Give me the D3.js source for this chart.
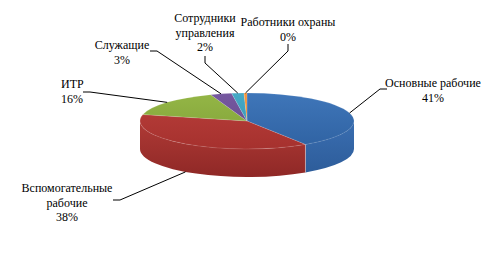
<!DOCTYPE html>
<html>
<head>
<meta charset="utf-8">
<script src="https://cdn.jsdelivr.net/npm/d3@7"></script>
<style>
  body { margin: 0; background: #fff; }
  svg { display: block; }
</style>
</head>
<body>
<div id="app"></div>
<script>
// categories and their shares (percent)
const categories = ['Основные рабочие', 'Вспомогательные\nрабочие', 'ИТР', 'Служащие', 'Сотрудники\nуправления', 'Работники охраны'];
const shares = [40.8, 37.9, 15.8, 3.2, 1.85, 0.45];

// colours per slice: [top light, top dark, side light, side dark]
const palette = [
  ['#3f76b9', '#2f62a2', '#3a6eb1', '#2c5b98'],
  ['#b93f3b', '#a6312e', '#af3a36', '#8f2826'],
  ['#94b646', '#7f9f37', '#89a83f', '#6f8a2e'],
  ['#7658a0', '#624788', '#6a4f92', '#553e78'],
  ['#45a9c6', '#3393b0', '#3c9dba', '#2e829c'],
  ['#f7963c', '#e67f22', '#ee8a30', '#d0701b']
];

// label layout: text position, anchor, attach + elbow of leader line
const labelLayout = [
  { x: 433, y: 87,  anchor: 'middle', attach: [387, 89], elbow: [380, 89] },
  { x: 67,  y: 192, anchor: 'middle', attach: [113, 200], elbow: [120, 200] },
  { x: 61,  y: 88,  anchor: 'start',  attach: [83, 92],  elbow: [90, 92] },
  { x: 122, y: 49,  anchor: 'middle', attach: [150, 51], elbow: [157, 51] },
  { x: 205, y: 22,  anchor: 'middle', attach: [205, 56], elbow: [205, 63] },
  { x: 288, y: 26,  anchor: 'middle', attach: [288, 44], elbow: [288, 51] }
];

const W = 497, H = 278;
const cx = 247, cy = 121, rx = 107, ry = 28, depth = 28;
const lineH = 14.5;
const FONT = "'Liberation Serif', 'Times New Roman', 'DejaVu Serif', serif";

const svg = d3.select('#app').append('svg').attr('width', W).attr('height', H);
const defs = svg.append('defs');

palette.forEach((c, i) => {
  const gt = defs.append('linearGradient').attr('id', 'top' + i)
    .attr('gradientUnits', 'userSpaceOnUse').attr('x1', 0).attr('y1', cy - ry).attr('x2', 0).attr('y2', cy + ry);
  gt.append('stop').attr('offset', 0).attr('stop-color', c[0]);
  gt.append('stop').attr('offset', 1).attr('stop-color', c[1]);
  const gs = defs.append('linearGradient').attr('id', 'side' + i)
    .attr('gradientUnits', 'userSpaceOnUse').attr('x1', 0).attr('y1', cy).attr('x2', 0).attr('y2', cy + ry + depth);
  gs.append('stop').attr('offset', 0).attr('stop-color', c[2]);
  gs.append('stop').attr('offset', 1).attr('stop-color', c[3]);
});

const pie = d3.pie().sort(null).value(d => d);
const arcs = pie(shares);
const total = d3.sum(shares);

function pt(a, dy = 0) {
  return [cx + rx * Math.sin(a), cy - ry * Math.cos(a) + dy];
}

// front side walls
const sides = svg.append('g');
arcs.forEach((d, i) => {
  const a0 = Math.max(d.startAngle, Math.PI / 2);
  const a1 = Math.min(d.endAngle, 3 * Math.PI / 2);
  if (a1 <= a0) return;
  const p0 = pt(a0), p1 = pt(a1), q1 = pt(a1, depth), q0 = pt(a0, depth);
  const path = `M${p0}A${rx},${ry} 0 0 1 ${p1}L${q1}A${rx},${ry} 0 0 0 ${q0}Z`;
  sides.append('path').attr('d', path).attr('fill', `url(#side${i})`);
  if (d.startAngle > Math.PI / 2 && d.startAngle < 3 * Math.PI / 2) {
    sides.append('line').attr('x1', p0[0]).attr('y1', p0[1]).attr('x2', q0[0]).attr('y2', q0[1])
      .attr('stroke', 'rgba(255,255,255,0.35)').attr('stroke-width', 1);
  }
});

// top surfaces
const tops = svg.append('g');
arcs.forEach((d, i) => {
  const p0 = pt(d.startAngle), p1 = pt(d.endAngle);
  const large = d.endAngle - d.startAngle > Math.PI ? 1 : 0;
  tops.append('path')
    .attr('d', `M${cx},${cy}L${p0}A${rx},${ry} 0 ${large} 1 ${p1}Z`)
    .attr('fill', `url(#top${i})`)
    .attr('stroke', 'rgba(255,255,255,0.25)').attr('stroke-width', 0.5);
});

// labels + leader lines
const labels = svg.append('g')
  .attr('font-family', FONT).attr('font-size', 12).attr('fill', '#000');
arcs.forEach((d, i) => {
  const L = labelLayout[i];
  const mid = (d.startAngle + d.endAngle) / 2;
  const front = Math.cos(mid) < 0;
  const anchor = pt(mid, front ? depth : 0);
  labels.append('path')
    .attr('d', d3.line()([L.attach, L.elbow, anchor]))
    .attr('fill', 'none').attr('stroke', '#000').attr('stroke-width', 1);
  const lines = categories[i].split('\n').concat([Math.round(shares[i] / total * 100) + '%']);
  const t = labels.append('text').attr('text-anchor', L.anchor);
  lines.forEach((s, k) => {
    t.append('tspan').attr('x', L.x).attr('y', L.y + k * lineH).text(s);
  });
});
</script>
</body>
</html>
